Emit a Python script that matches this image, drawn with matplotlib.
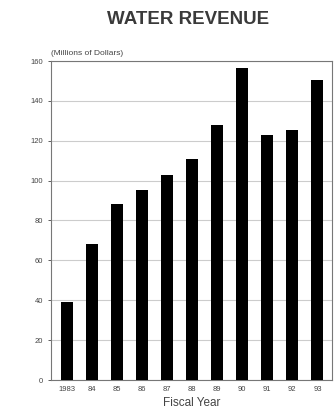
import numpy as np
import matplotlib.pyplot as plt

plt.rcParams['font.family'] = ['Liberation Sans', 'DejaVu Sans']

years = ['1983', '84', '85', '86', '87', '88', '89', '90', '91', '92', '93']
revenue = [39, 68, 88.5, 95.5, 103, 111, 128, 156.5, 123, 125.5, 150.5]
y_ticks = [0, 20, 40, 60, 80, 100, 120, 140, 160]

fig = plt.figure(figsize=(3.36, 4.11), dpi=100)
ax = fig.add_axes([51 / 336, 1 - 380 / 411, 281 / 336, 319 / 411])

x = np.arange(len(years))
ax.bar(x, revenue, width=0.48, color='black', zorder=3)

ax.set_xlim(-0.62, 10.58)
ax.set_ylim(0, 160)
ax.set_yticks(y_ticks)
ax.set_xticks(x)
ax.set_xticklabels(years)
ax.tick_params(axis='both', labelsize=5.5, length=2, width=0.6, colors='#444444')
ax.tick_params(axis='x', length=0, pad=4)
ax.grid(axis='y', color='#cccccc', linewidth=0.8, zorder=0)
for s in ax.spines.values():
    s.set_linewidth(0.8)
    s.set_color('#777777')

ax.set_xlabel('Fiscal Year', fontsize=8.5, color='#444444', labelpad=3)
ax.text(0.0, 1.012, '(Millions of Dollars)', transform=ax.transAxes,
        fontsize=6, color='#444444', ha='left', va='bottom')
fig.text(188 / 336, 1 - 20 / 411, 'WATER REVENUE', ha='center', va='center',
         fontsize=13.5, fontweight='bold', color='#3a3a3a')

fig.savefig('out.png', dpi=100)
